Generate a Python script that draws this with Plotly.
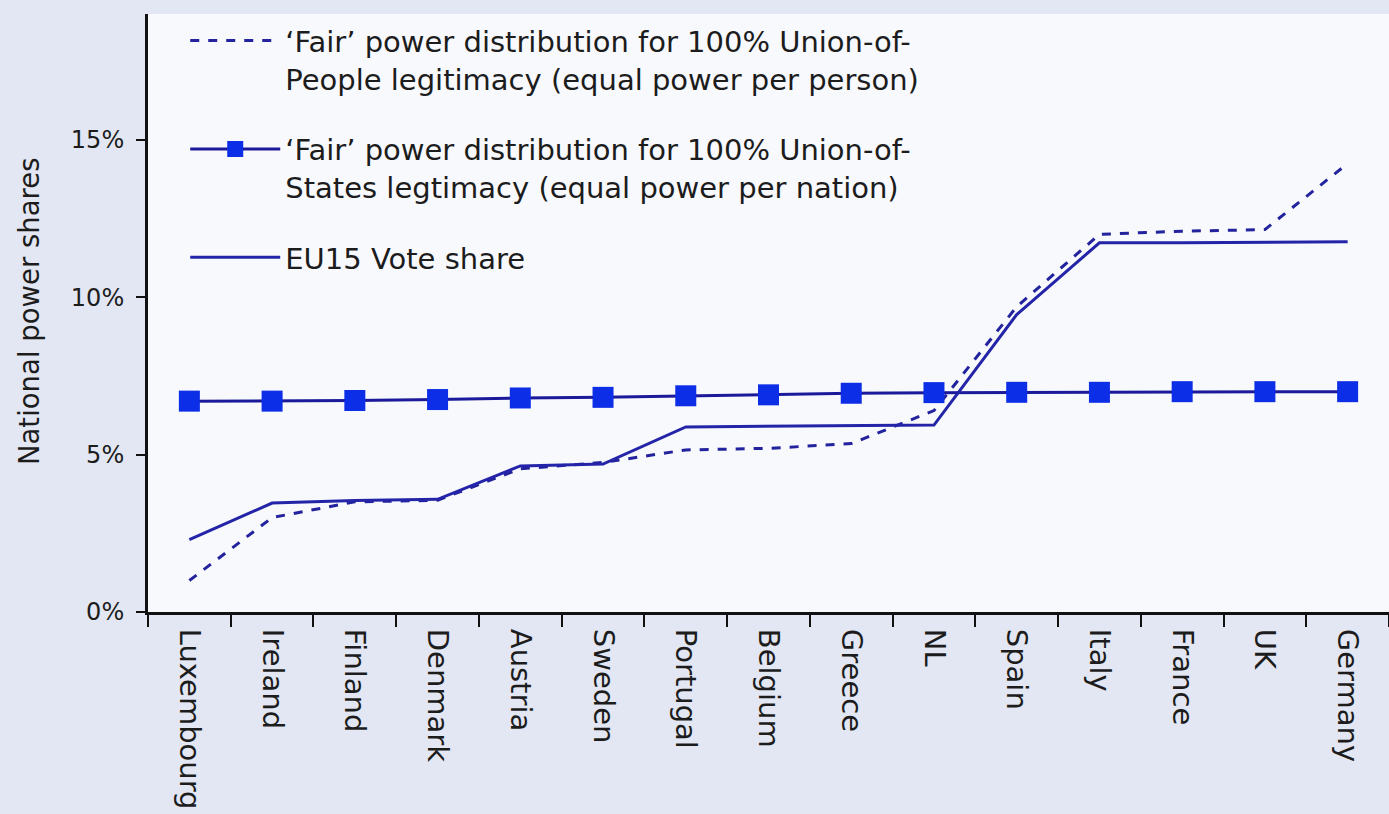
import plotly.graph_objects as go

countries = ["Luxembourg", "Ireland", "Finland", "Denmark", "Austria", "Sweden",
             "Portugal", "Belgium", "Greece", "NL", "Spain", "Italy", "France", "UK", "Germany"]

union_of_people = [1.0, 3.0, 3.5, 3.55, 4.55, 4.75, 5.15, 5.2, 5.35, 6.4, 9.7, 12.0, 12.1, 12.15, 14.25]
union_of_states = [6.7, 6.7, 6.72, 6.75, 6.8, 6.82, 6.87, 6.9, 6.95, 6.97, 6.98, 6.98, 7.0, 7.0, 7.0]
eu15_vote = [2.3, 3.46, 3.54, 3.58, 4.64, 4.7, 5.88, 5.9, 5.92, 5.94, 9.45, 11.73, 11.73, 11.75, 11.76]

name_people = "‘Fair’ power distribution for 100% Union-of-<br>People legitimacy (equal power per person)"
name_states = "‘Fair’ power distribution for 100% Union-of-<br>States legtimacy (equal power per nation)"
name_vote = "EU15 Vote share"

FONT = "DejaVu Sans"
TXT = "#1c1c1c"

fig = go.Figure()
fig.add_trace(go.Scatter(
    x=countries, y=union_of_people, name=name_people, mode="lines",
    line=dict(color="#23239e", width=3, dash="dash"), legendgroup="a"))
fig.add_trace(go.Scatter(
    x=countries, y=union_of_states, name=name_states, mode="lines+markers",
    line=dict(color="#1a1a9a", width=3),
    marker=dict(symbol="square", size=21, color="#0c2ee6"), legendgroup="b"))
fig.add_trace(go.Scatter(
    x=countries, y=eu15_vote, name=name_vote, mode="lines",
    line=dict(color="#2424a8", width=3), legendgroup="c"))

fig.update_layout(
    width=1389, height=814,
    margin=dict(l=148, r=0, t=14, b=202),
    paper_bgcolor="#e3e7f3",
    plot_bgcolor="#f8f9fd",
    font=dict(family=FONT, color=TXT),
    showlegend=True,
    legend=dict(
        x=0.03, y=0.998, xanchor="left", yanchor="top",
        bgcolor="rgba(0,0,0,0)", borderwidth=0,
        font=dict(family=FONT, size=29, color=TXT),
        traceorder="grouped", tracegroupgap=30,
        itemwidth=90, valign="top",
    ),
    xaxis=dict(
        type="category", range=[-0.5, 14.5],
        showgrid=False, zeroline=False,
        showline=True, linecolor="#111111", linewidth=3,
        ticks="outside", tickson="boundaries", ticklen=12, tickwidth=2, tickcolor="#111111",
        tickangle=90, ticklabelstandoff=8,
        tickfont=dict(family=FONT, size=29, color=TXT),
    ),
    yaxis=dict(
        range=[0, 19.0],
        showgrid=False, zeroline=False,
        showline=True, linecolor="#111111", linewidth=3,
        ticks="outside", ticklen=9, tickwidth=2, tickcolor="#111111",
        ticklabelstandoff=7,
        tickvals=[0, 5, 10, 15], ticktext=["0%", "5%", "10%", "15%"],
        tickfont=dict(family=FONT, size=24, color=TXT),
    ),
    annotations=[dict(
        text="National power shares", textangle=-90,
        xref="paper", yref="paper", x=-0.096, y=0.503,
        xanchor="center", yanchor="middle", showarrow=False,
        font=dict(family=FONT, size=27.5, color=TXT),
    )],
)

fig.write_html("out.html", config={"displayModeBar": False},
               post_script="document.body.style.margin='0';")
